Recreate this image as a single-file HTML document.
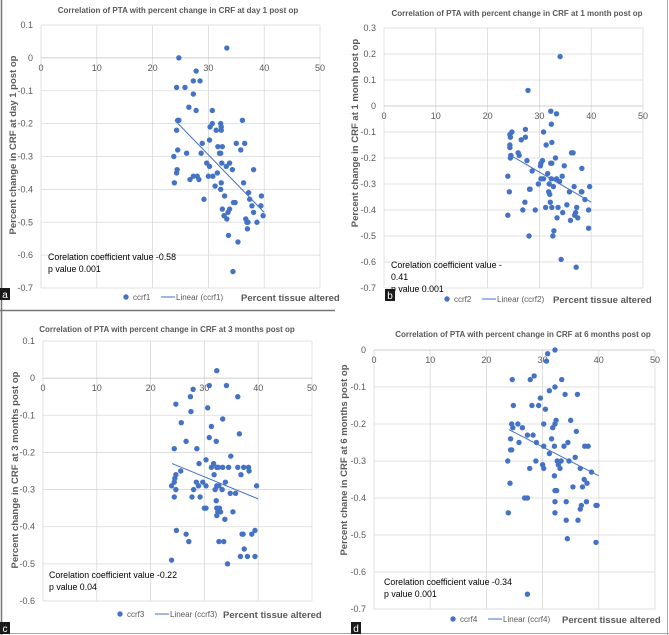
<!DOCTYPE html>
<html><head><meta charset="utf-8"><style>
body{margin:0;background:#fff;}
svg{display:block;font-family:"Liberation Sans",Arial,sans-serif;}
</style></head><body>
<svg id="fig" width="669" height="635" viewBox="0 0 669 635" xmlns="http://www.w3.org/2000/svg">
<rect x="0" y="0" width="669" height="635" fill="#fff"/>
<line x1="1.5" y1="0" x2="1.5" y2="635" stroke="#777" stroke-width="1.5"/>
<line x1="667.5" y1="0" x2="667.5" y2="635" stroke="#aaa" stroke-width="1"/>
<line x1="0" y1="310.5" x2="335" y2="310.5" stroke="#777" stroke-width="1.5"/>
<line x1="0" y1="633.5" x2="669" y2="633.5" stroke="#aaa" stroke-width="1"/>
</svg>
<script>
const xTicks = [0,10,20,30,40,50];
const ticksA = [0.1,0,-0.1,-0.2,-0.3,-0.4,-0.5,-0.6,-0.7];
const ticksB = [0.3,0.2,0.1,0,-0.1,-0.2,-0.3,-0.4,-0.5,-0.6,-0.7];
const ticksC = [0.1,0,-0.1,-0.2,-0.3,-0.4,-0.5,-0.6];
const ticksD = [0,-0.1,-0.2,-0.3,-0.4,-0.5,-0.6,-0.7];

const xs1 = [24.7,33.3,27.8,27.3,28.5,24.3,25.8,27.3,26.5,27.8,30.7,24.7,24.5,36.1,30.7,32.2,30.3,32.3,31.4,32.3,24.3,28.9,35.0,36.5,30.2,31.7,32.5,24.5,35.8,26.1,28.7,32.0,32.2,23.8,29.7,32.4,33.8,33.2,30.2,24.4,24.3,34.3,38.1,31.6,27.3,28.0,30.0,30.8,26.7,28.3,23.9,32.3,36.3,31.2,32.2,37.2,32.9,39.5,29.2,37.4,34.5,34.8,37.8,39.4,32.5,33.8,33.5,38.1,32.8,39.8,33.3,36.7,36.9,37.1,38.7,37.0,33.6,35.3,34.4];
const ys1 = [0,0.03,-0.04,-0.07,-0.07,-0.09,-0.09,-0.11,-0.15,-0.16,-0.16,-0.19,-0.19,-0.19,-0.2,-0.2,-0.21,-0.21,-0.22,-0.22,-0.22,-0.26,-0.26,-0.26,-0.25,-0.27,-0.27,-0.28,-0.28,-0.29,-0.29,-0.29,-0.29,-0.3,-0.32,-0.32,-0.32,-0.33,-0.33,-0.34,-0.35,-0.34,-0.34,-0.35,-0.36,-0.36,-0.36,-0.36,-0.37,-0.37,-0.38,-0.38,-0.38,-0.39,-0.4,-0.41,-0.42,-0.42,-0.43,-0.43,-0.44,-0.44,-0.45,-0.45,-0.46,-0.46,-0.47,-0.47,-0.48,-0.48,-0.49,-0.49,-0.5,-0.5,-0.5,-0.52,-0.54,-0.56,-0.65];
const trend1 = [24,-0.19,40,-0.47];

const xs2 = [34.0,27.8,32.2,33.3,32.3,27.3,24.7,30.8,24.3,24.4,27.3,26.5,24.3,31.3,32.4,24.3,25.9,36.2,36.5,26.1,24.5,24.4,33.1,27.6,30.6,30.3,32.2,32.4,30.2,34.8,38.2,28.6,31.6,23.9,34.4,30.3,30.8,32.3,33.3,33.9,29.8,31.9,32.7,36.7,39.7,28.1,28.2,31.8,35.8,38.1,38.2,24.2,32.0,38.8,27.2,32.1,35.3,31.2,32.4,33.6,37.2,26.8,29.2,39.5,34.5,37.0,23.9,36.8,33.4,37.4,36.0,39.5,32.8,28.0,32.6,34.2,37.1];
const ys2 = [0.19,0.06,-0.02,-0.03,-0.07,-0.09,-0.10,-0.10,-0.11,-0.12,-0.12,-0.13,-0.15,-0.15,-0.14,-0.16,-0.18,-0.18,-0.18,-0.19,-0.19,-0.20,-0.20,-0.21,-0.21,-0.22,-0.22,-0.22,-0.23,-0.23,-0.24,-0.25,-0.26,-0.27,-0.27,-0.28,-0.28,-0.28,-0.28,-0.29,-0.30,-0.30,-0.31,-0.31,-0.31,-0.32,-0.32,-0.33,-0.33,-0.33,-0.33,-0.33,-0.34,-0.36,-0.37,-0.37,-0.38,-0.39,-0.39,-0.39,-0.39,-0.40,-0.40,-0.40,-0.41,-0.41,-0.42,-0.42,-0.43,-0.43,-0.44,-0.47,-0.48,-0.50,-0.50,-0.59,-0.62];
const trend2 = [24,-0.185,40,-0.37];

const xs3 = [32.3,30.9,34.1,27.9,27.4,36.2,24.7,30.6,27.5,33.4,25.7,31.3,36.5,30.9,26.6,32.2,24.4,28.6,34.9,30.3,29.0,31.7,31.3,32.3,32.6,33.4,34.5,36.2,37.3,38.2,38.3,25.6,31.8,36.8,24.7,24.5,24.4,28.5,29.7,33.9,23.9,28.9,30.3,32.3,32.7,39.7,24.7,28.0,32.0,33.3,34.8,35.8,24.4,27.7,29.2,32.2,30.0,30.3,32.3,32.8,32.5,33.0,35.3,32.3,33.8,24.8,39.4,26.6,37.0,37.2,38.8,27.1,32.7,33.6,37.4,36.7,38.0,39.4,23.9,34.3];
const ys3 = [0.02,-0.02,-0.02,-0.03,-0.05,-0.05,-0.07,-0.08,-0.09,-0.11,-0.12,-0.13,-0.15,-0.16,-0.17,-0.17,-0.19,-0.19,-0.21,-0.22,-0.23,-0.23,-0.24,-0.24,-0.24,-0.24,-0.24,-0.24,-0.24,-0.24,-0.25,-0.25,-0.26,-0.26,-0.26,-0.27,-0.28,-0.28,-0.28,-0.28,-0.29,-0.29,-0.29,-0.29,-0.29,-0.29,-0.30,-0.30,-0.30,-0.30,-0.31,-0.31,-0.32,-0.32,-0.32,-0.33,-0.35,-0.35,-0.35,-0.35,-0.36,-0.36,-0.36,-0.37,-0.38,-0.41,-0.41,-0.42,-0.42,-0.42,-0.42,-0.44,-0.44,-0.44,-0.46,-0.48,-0.48,-0.48,-0.49,-0.50];
const trend3 = [24,-0.23,40,-0.325];

const xs4 = [32.2,30.9,30.7,28.5,27.8,24.6,33.4,32.2,31.2,34.0,36.2,29.6,24.8,28.1,29.3,30.5,32.4,35.0,24.5,25.6,30.2,32.2,24.7,26.4,31.8,36.0,27.3,28.3,31.6,24.3,25.8,28.9,34.5,30.2,32.1,33.8,37.5,38.1,24.3,24.5,31.2,35.8,23.8,28.8,32.6,33.3,34.7,30.0,32.8,30.2,27.7,33.1,36.7,38.7,32.1,37.4,24.2,37.9,35.4,37.1,32.2,32.5,26.8,27.3,32.2,34.2,37.8,36.9,39.5,39.7,36.7,23.9,32.2,34.2,36.3,34.4,39.5,27.3];
const ys4 = [0.0,-0.01,-0.03,-0.07,-0.08,-0.08,-0.08,-0.10,-0.11,-0.12,-0.12,-0.13,-0.15,-0.15,-0.15,-0.16,-0.19,-0.19,-0.20,-0.20,-0.20,-0.20,-0.21,-0.21,-0.21,-0.22,-0.23,-0.23,-0.24,-0.24,-0.25,-0.25,-0.25,-0.26,-0.26,-0.26,-0.26,-0.26,-0.27,-0.27,-0.28,-0.29,-0.30,-0.30,-0.30,-0.30,-0.30,-0.31,-0.31,-0.32,-0.32,-0.32,-0.32,-0.33,-0.34,-0.35,-0.36,-0.36,-0.37,-0.37,-0.38,-0.38,-0.40,-0.40,-0.41,-0.41,-0.41,-0.42,-0.42,-0.42,-0.43,-0.44,-0.44,-0.46,-0.46,-0.51,-0.52,-0.66];
const trend4 = [24,-0.215,40,-0.34];

const NS = "http://www.w3.org/2000/svg";
const svg = document.getElementById('fig');
function mk(tag, attrs, parent, text){
  const e = document.createElementNS(NS, tag);
  for (const k in attrs) e.setAttribute(k, attrs[k]);
  if (text !== undefined) e.textContent = text;
  (parent || svg).appendChild(e);
  return e;
}
function fmt(v){ return (Math.round(v*10)/10).toString(); }

function panel(cfg){
  const g = mk('g', {});
  
  
  const sx = v => cfg.x0 + (cfg.x50 - cfg.x0) * v / 50;
  const yTop = cfg.yticks[0], yBot = cfg.yticks[cfg.yticks.length-1];
  const sy = v => cfg.yT + (cfg.yB - cfg.yT) * (yTop - v) / (yTop - yBot);
  xTicks.forEach(t => {
    const l = mk('line', {x1:sx(t), x2:sx(t), y1:cfg.yT, y2:cfg.yB, stroke:'#d9d9d9', 'stroke-width':0.8}, g);
    
    
  });
  cfg.yticks.forEach(t => {
    const l = mk('line', {x1:cfg.x0, x2:cfg.x50, y1:sy(t), y2:sy(t), stroke: Math.abs(t)<1e-9 ? '#bfbfbf' : '#d9d9d9', 'stroke-width':0.8}, g);
    
    
    const tx = mk('text', {x:cfg.x0 - 8, y:sy(t)+3, 'font-size':9, fill:'#595959', 'text-anchor':'end'}, g, fmt(t));
    
    
  });
  xTicks.forEach(t => {
    const tx = mk('text', {x:sx(t), y:sy(0)+13, 'font-size':9, fill:'#595959', 'text-anchor':'middle'}, g, String(t));
    
    
  });
  cfg.xs.forEach((xv, i) => {
    const c = mk('circle', {cx:sx(xv), cy:sy(cfg.ys[i]), r:2.7, fill:'#4472C4'}, g);
    
    
  });
  const tr = mk('line', {x1:sx(cfg.trend[0]), y1:sy(cfg.trend[1]), x2:sx(cfg.trend[2]), y2:sy(cfg.trend[3]), stroke:'#4472C4', 'stroke-width':1}, g);
  
  
  const ti = mk('text', {x:cfg.tx, y:cfg.ty, 'font-size':8, 'font-weight':'bold', fill:'#595959', 'text-anchor':'middle'}, g, cfg.title);
  
  
  const yt = mk('text', {x:0, y:0, 'font-size':9.5, 'font-weight':'bold', fill:'#595959', 'text-anchor':'middle', transform:'translate('+cfg.ytx+','+cfg.yty+') rotate(-90)'}, g, cfg.ytitle);
  
  
  cfg.note.forEach((s, i) => {
    const n = mk('text', {x:cfg.nx, y:cfg.ny + i*cfg.nd, 'font-size':8.8, fill:'#000'}, g, s);
    
    
  });
  const ld = mk('circle', {cx:cfg.lx, cy:cfg.ly-3, r:2.7, fill:'#4472C4'}, g);
  
  
  const l1 = mk('text', {x:cfg.lx+7, y:cfg.ly, 'font-size':8, fill:'#595959'}, g, 'ccrf' + cfg.n);
  
  
  const ll = mk('line', {x1:cfg.lx+35, x2:cfg.lx+49, y1:cfg.ly-3, y2:cfg.ly-3, stroke:'#4472C4', 'stroke-width':1}, g);
  
  
  const l2 = mk('text', {x:cfg.lx+50, y:cfg.ly, 'font-size':8, fill:'#595959'}, g, 'Linear (ccrf' + cfg.n + ')');
  
  
  const xt = mk('text', {x:cfg.xtx, y:cfg.ly+1, 'font-size':9.5, 'font-weight':'bold', fill:'#595959'}, g, 'Percent tissue altered');
  
  
  const lb = mk('rect', {x:cfg.bx, y:cfg.by, width:10, height:12, fill:'#1a1a1a'}, g);
  
  
  const lt = mk('text', {x:cfg.bx+5, y:cfg.by+10, 'font-size':10, fill:'#fff', 'text-anchor':'middle'}, g, cfg.id);
  
  
}

panel({id:'a', n:1, x0:41, x50:320, yT:25, yB:288, yticks:ticksA, xs:xs1, ys:ys1, trend:trend1,
  title:'Correlation of PTA with percent change in CRF at day 1 post op', tx:178, ty:13,
  ytitle:'Percent  change in CRF at day 1 post op', ytx:16, yty:145,
  note:['Corelation coefficient value -0.58','p value 0.001'], nx:48, ny:260, nd:12,
  lx:126, ly:300, xtx:241, bx:0, by:288});
panel({id:'b', n:2, x0:384, x50:643, yT:28, yB:288, yticks:ticksB, xs:xs2, ys:ys2, trend:trend2,
  title:'Correlation of PTA with percent change in  CRF  at 1 month post op', tx:517, ty:16,
  ytitle:'Percent change in CRF at 1 monh post op', ytx:358, yty:133,
  note:['Corelation coefficient value -','0.41','p value 0.001'], nx:391, ny:268, nd:12,
  lx:447, ly:302, xtx:553, bx:385, by:289});
panel({id:'c', n:3, x0:43, x50:312, yT:341, yB:601, yticks:ticksC, xs:xs3, ys:ys3, trend:trend3,
  title:'Correlation of PTA with percent change in CRF at 3 months post op', tx:167, ty:332,
  ytitle:'Percent change in CRF at 3 months post op', ytx:18, yty:470,
  note:['Corelation coefficient value -0.22','p value 0.04'], nx:49, ny:578, nd:12,
  lx:120, ly:617, xtx:223, bx:0, by:622});
panel({id:'d', n:4, x0:374, x50:655, yT:350, yB:609, yticks:ticksD, xs:xs4, ys:ys4, trend:trend4,
  title:'Correlation of PTA with percent change in CRF at 6 months post op', tx:523, ty:337,
  ytitle:'Percent chane in CRF at 6 months post op', ytx:347, yty:460,
  note:['Corelation coefficient value -0.34','p value 0.001'], nx:384, ny:585, nd:12,
  lx:453, ly:622, xtx:562, bx:351, by:622});
</script>
</body></html>
